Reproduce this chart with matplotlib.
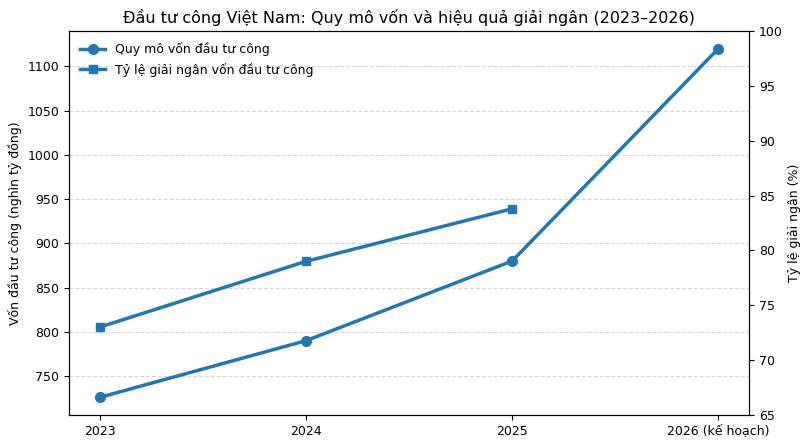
import matplotlib
matplotlib.use("Agg")
import matplotlib.pyplot as plt

years = ["2023", "2024", "2025", "2026 (kế hoạch)"]
capital = [726, 790, 880, 1120]
rate_years = ["2023", "2024", "2025"]
rate = [73.0, 79.0, 83.8]

fig, ax = plt.subplots(figsize=(8.1, 4.46), dpi=100)
x = list(range(len(years)))
color = "#1f77b4"
l1, = ax.plot(x, capital, marker="o", color=color, lw=2.5, ms=7, label="Quy mô vốn đầu tư công")
ax.set_ylabel("Vốn đầu tư công (nghìn tỷ đồng)", fontsize=9)
ax.set_xticks(x)
ax.set_xticklabels(years)
ax.tick_params(labelsize=9)
ax.grid(axis="y", linestyle="--", color="#cccccc", alpha=0.8)
ax.set_axisbelow(True)

ax2 = ax.twinx()
l2, = ax2.plot(x[:len(rate)], rate, marker="s", color=color, lw=2.5, ms=6, label="Tỷ lệ giải ngân vốn đầu tư công")
ax2.set_ylim(65, 100)
ax2.set_ylabel("Tỷ lệ giải ngân (%)", fontsize=9)
ax2.tick_params(labelsize=9)

ax.legend(handles=[l1, l2], loc="upper left", frameon=False, fontsize=9)
ax.set_title("Đầu tư công Việt Nam: Quy mô vốn và hiệu quả giải ngân (2023–2026)", fontsize=11.5)

fig.subplots_adjust(left=0.085, right=0.925, top=0.93, bottom=0.07)
fig.savefig("out.png", dpi=100)
